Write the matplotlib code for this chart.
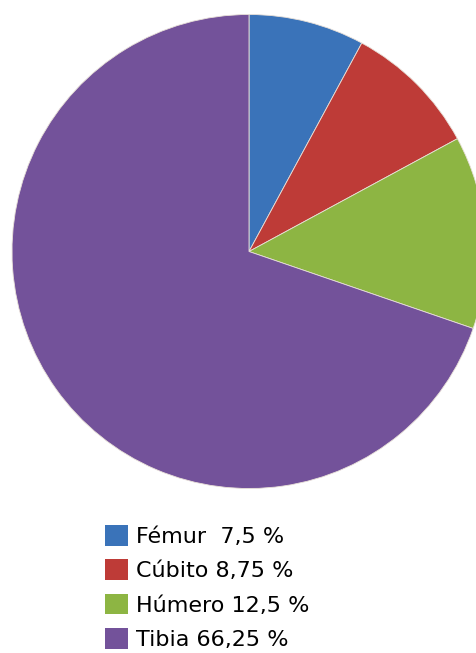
import matplotlib.pyplot as plt
from matplotlib.patches import Patch

huesos = ["Fémur", "Cúbito", "Húmero", "Tibia"]
porcentajes = [7.5, 8.75, 12.5, 66.25]
etiquetas = ["Fémur  7,5 %", "Cúbito 8,75 %", "Húmero 12,5 %", "Tibia 66,25 %"]
colores = ["#3a73b9", "#be3b37", "#8db543", "#73529a"]

fig = plt.figure(figsize=(4.77, 6.53), dpi=100)
# pie axes, slightly wider than the figure on the right like the original
ax = fig.add_axes([12 / 477, (653 - 489) / 653, 474 / 477, 475 / 653])
ax.pie(porcentajes, colors=colores, startangle=90, counterclock=False,
       wedgeprops=dict(edgecolor="#e8e0d8", linewidth=0.6))
ax.set_xlim(-1, 1)
ax.set_ylim(-1, 1)
ax.set_aspect("equal")
ax.axis("off")

handles = [Patch(facecolor=c, edgecolor="none") for c in colores]
fig.legend(handles, etiquetas, loc="upper left",
           bbox_to_anchor=(105 / 477, 1 - 525 / 653),
           frameon=False, fontsize=16, handlelength=1.05, handleheight=1.05,
           handletextpad=0.35, labelspacing=0.56, borderaxespad=0, borderpad=0)

plt.savefig("out.png", dpi=100)
